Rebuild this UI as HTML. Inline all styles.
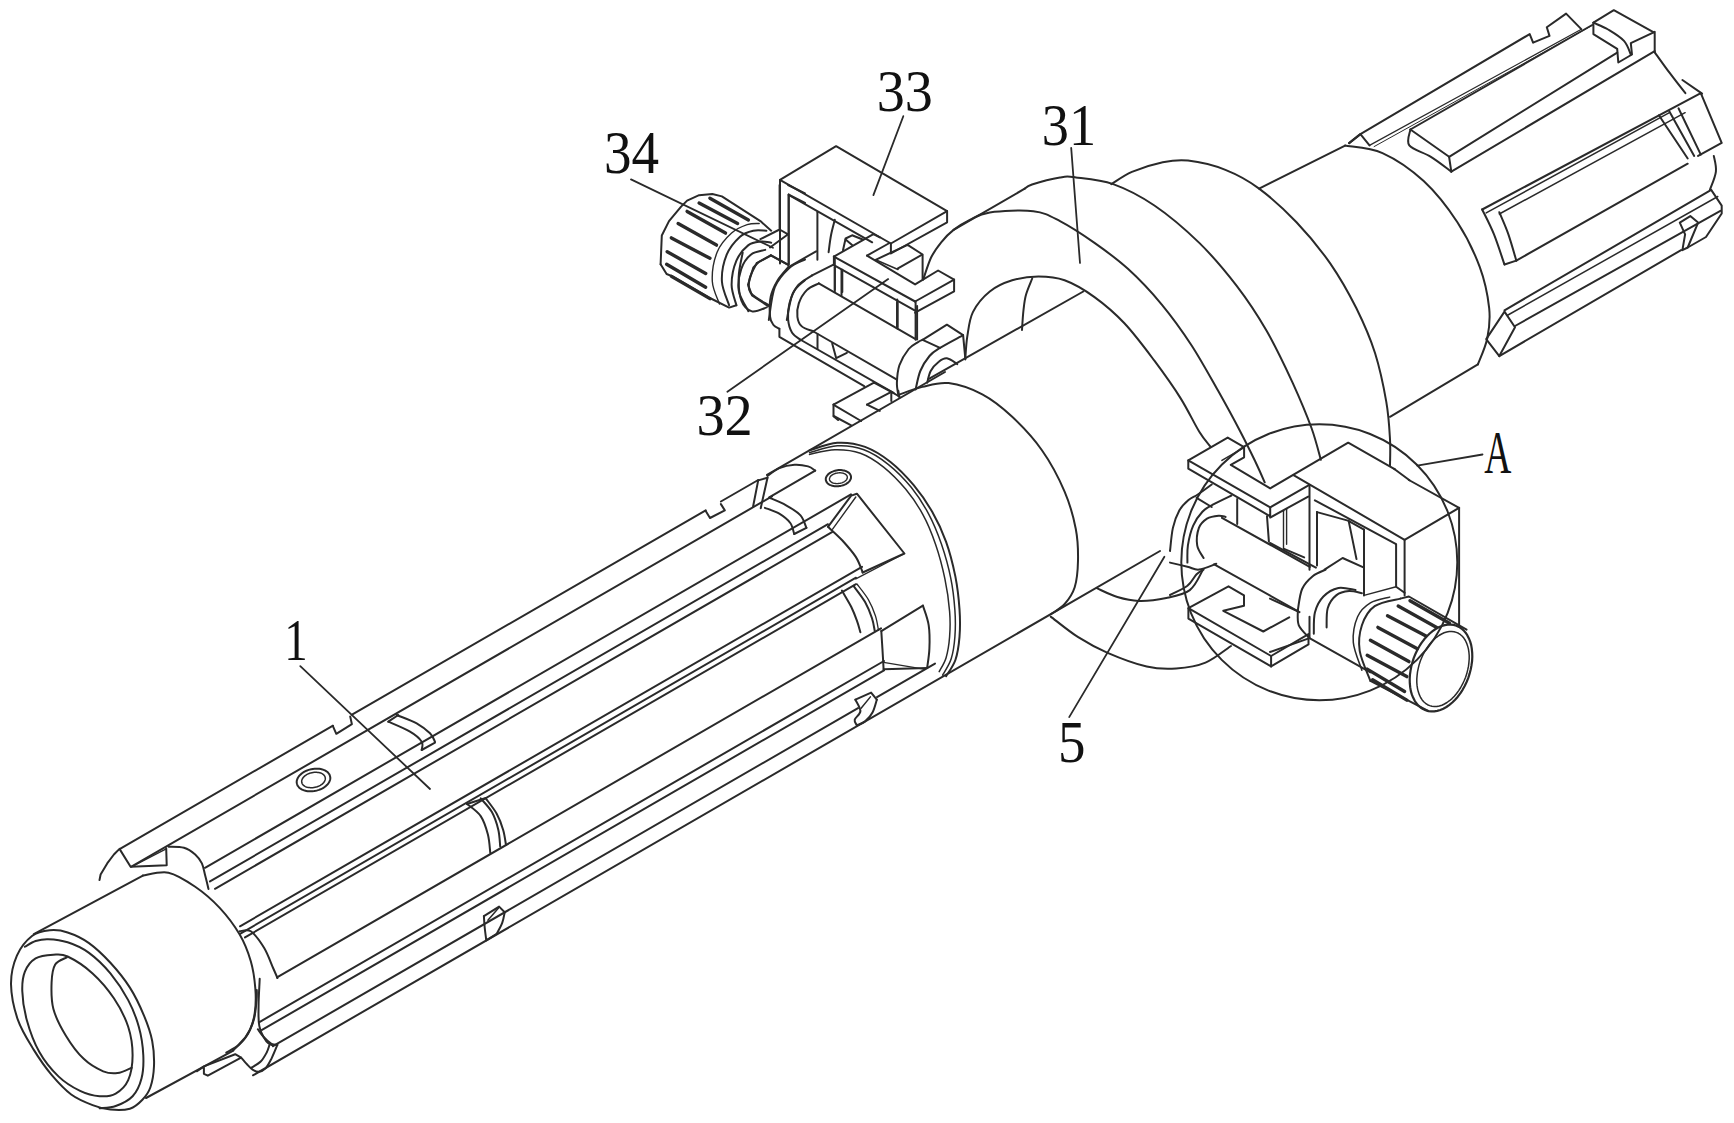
<!DOCTYPE html>
<html><head><meta charset="utf-8"><style>
html,body{margin:0;padding:0;background:#fff;width:1734px;height:1123px;overflow:hidden}
svg{display:block}
</style></head><body>
<svg width="1734" height="1123" viewBox="0 0 1734 1123">
<rect width="1734" height="1123" fill="#fff"/>
<g>
<g fill="none" stroke="#2a2a2a" stroke-linejoin="round" stroke-linecap="round">
<path d="M11,984.1 C10.9,973.4 13.4,963.6 16.9,955.6 C20.4,947.6 26.6,940.2 32,936 C37.5,931.8 43.9,930.9 49.8,930.3 C55.8,929.7 61.1,930.3 67.6,932.5 C74.2,934.6 81.9,938.1 89,943.1 C96.1,948.2 103.5,955.3 110.4,962.7 C117.2,970.1 124.3,978.7 129.9,987.6 C135.6,996.5 140.5,1007.2 144.2,1016.1 C147.9,1025 150.6,1032.7 152.2,1041 C153.8,1049.4 154.3,1058.3 154,1066 C153.7,1073.7 152.3,1081.7 150.4,1087.3 C148.5,1093 145.8,1096.2 142.4,1099.8 C139,1103.4 135.3,1107.1 129.9,1108.7 C124.6,1110.3 116.6,1110.2 110.4,1109.6 C104.1,1109 99.1,1107.7 92.6,1105.1 C86,1102.6 78,1099.5 71.2,1094.5 C64.4,1089.4 57.9,1082.3 51.6,1074.9 C45.4,1067.5 39.5,1059.1 33.8,1049.9 C28.2,1040.8 21.6,1030.7 17.8,1019.7 C14,1008.7 11.2,994.8 11,984.1Z" stroke-width="2.0"/>
<path d="M24.9,946.7 C26.7,945.8 31.7,942.3 35.6,941 C39.5,939.8 42.7,939 48.1,939.2 C53.4,939.4 60.8,940 67.6,942.3 C74.5,944.5 81.9,947.7 89,952.9 C96.1,958.1 103.8,965.5 110.4,973.4 C116.9,981.3 123.4,991.2 128.2,1000.1 C132.9,1009 136.3,1017.6 138.8,1026.8 C141.4,1036 142.9,1046.7 143.3,1055.3 C143.7,1063.9 143.3,1071.6 141.5,1078.4 C139.7,1085.3 136.9,1091.6 132.6,1096.2 C128.3,1100.8 121.2,1104 115.7,1106 C110.2,1108 102.4,1107.9 99.7,1108.3" stroke-width="2.0"/>
<path d="M53.4,954.7 C58.7,954.4 61.1,953.4 67.6,956.5 C74.2,959.6 84.9,966.4 92.6,973.4 C100.3,980.4 108,989.4 113.9,998.3 C119.9,1007.2 125.1,1017.3 128.2,1026.8 C131.3,1036.3 132.6,1046.4 132.6,1055.3 C132.6,1064.2 131,1073.8 128.2,1080.2 C125.3,1086.6 120.5,1090.9 115.7,1093.6 C111,1096.2 105.6,1096.7 99.7,1096.2 C93.8,1095.8 86.9,1094.2 80.1,1090.9 C73.3,1087.6 65.6,1083.2 58.7,1076.6 C51.9,1070.1 44.5,1061.2 39.2,1051.7 C33.8,1042.2 29.5,1029.8 26.7,1019.7 C23.9,1009.6 22.5,999.2 22.3,991.2 C22,983.2 22.7,977.1 24.9,971.6 C27.1,966.1 30.9,961.1 35.6,958.3 C40.3,955.5 48.1,955 53.4,954.7Z" stroke-width="2.0"/>
<path d="M66.8,957.4 C64.8,958.6 57.7,960.3 55.2,964.5 C52.7,968.7 51.9,974.9 51.6,982.3 C51.3,989.7 51,1000.1 53.4,1009 C55.8,1017.9 60.8,1027.4 65.9,1035.7 C70.9,1044 77.4,1052.9 83.7,1058.8 C89.9,1064.8 97.6,1068.9 103.2,1071.3 C108.9,1073.7 112.7,1073.7 117.5,1073.1 C122.2,1072.5 129.4,1068.6 131.7,1067.7" stroke-width="2.0"/>
<path d="M33.8,934.2 L142.9,875.6" stroke-width="2.0"/>
<path d="M142.9,875.6 C147.1,875.2 159.7,870.9 168.5,872.7 C177.2,874.6 186.6,880.9 195.2,886.8 C203.7,892.6 212.2,899.9 219.7,907.9 C227.1,915.9 234.5,925.7 239.7,934.6 C244.9,943.5 248.2,952.4 250.8,961.3 C253.4,970.2 254.6,979.5 255.3,988.1 C256,996.6 255.8,1005.5 254.8,1012.5 C253.9,1019.6 252.4,1025 249.7,1030.4 C247,1035.7 242.5,1041.1 238.6,1044.8 C234.7,1048.5 228.4,1051.3 226.3,1052.6" stroke-width="2.0"/>
<path d="M99.5,880.1 L100.6,874.5 L107.2,863.4 L113.9,854.5 L119.5,848.9 L130.6,866.7 L166.7,865.2 L166.2,848.3" stroke-width="2.0"/>
<path d="M132.8,866.1 L166.2,848.9" stroke-width="1.2"/>
<path d="M168.5,846.7 C171.1,846.9 179.6,846.5 184,847.8 C188.5,849.1 192.2,851.9 195.2,854.5 C198.1,857.1 200.2,859.9 201.9,863.4 C203.5,866.9 204.1,871.4 205.2,875.6 C206.3,879.9 208,886.8 208.5,889" stroke-width="2.0"/>
<path d="M239.7,931.3 C241.6,931.3 246.8,928.5 250.8,931.3 C254.9,934.1 260.5,941.9 264.2,948 C267.9,954.1 270.9,963 273.1,968 C275.3,973 276.8,976.4 277.5,978" stroke-width="2.0"/>
<path d="M259.7,978.7 C259.6,982.9 258.7,995.8 258.6,1003.6 C258.6,1011.5 258,1019.6 259.3,1025.9 C260.6,1032.2 264.1,1038.2 266.4,1041.5 C268.7,1044.8 272,1044.8 273.1,1045.5" stroke-width="2.0"/>
<path d="M146,1098 L233.3,1050.7" stroke-width="2.0"/>
<path d="M233.3,1050.3 C235.4,1048.1 242.6,1042.2 246,1037 C249.4,1031.9 252.1,1025.6 253.9,1019.4 C255.6,1013.2 256.1,1004.7 256.6,999.8 C257.1,994.9 256.8,991.6 256.8,990" stroke-width="2.0"/>
<path d="M197,1071.3 L203.9,1066.4 L235.2,1054.2 L241.1,1057.6 L207.8,1075.7 L203.9,1073.8 L203.9,1066.4" stroke-width="2.0"/>
<path d="M241.1,1057.6 C242.3,1058.9 246,1063.4 248,1065.4 C249.9,1067.5 251.1,1068.8 252.9,1069.8 C254.7,1070.9 256.6,1072.1 258.8,1071.8 C260.9,1071.6 263.5,1070.6 265.6,1068.4 C267.7,1066.2 269.5,1062.5 271.5,1058.6 C273.4,1054.7 276.4,1047.2 277.4,1044.9" stroke-width="2.0"/>
<path d="M251.9,1067.4 C253.4,1066.4 258.3,1064 260.7,1061.5 C263.2,1059.1 265.1,1055.5 266.6,1052.7 C268.1,1049.9 269,1046.2 269.5,1044.9" stroke-width="2.0"/>
<path d="M257.8,1029.2 C258.8,1030.5 261.4,1034.6 263.7,1037 C265.9,1039.5 269.2,1042.6 271.5,1043.9 C273.8,1045.2 276.4,1044.7 277.4,1044.9" stroke-width="2.0"/>
<path d="M120,848.8 L333,725.7" stroke-width="2.0"/>
<path d="M352,714.7 L705.7,510.3" stroke-width="2.0"/>
<path d="M720.9,501.5 L758.2,480" stroke-width="2.0"/>
<path d="M767,474.9 L945,372" stroke-width="2.0"/>
<path d="M332.8,725.9 L336.3,733.8 L351.9,724.2 L350.2,716.4" stroke-width="2.0"/>
<path d="M705.7,510.9 L710,518 L724.8,510.4 L720.9,504.1" stroke-width="2.0"/>
<path d="M753.1,506.5 L758.2,480.4" stroke-width="2.0"/>
<path d="M760.7,508.2 L767.5,477.7" stroke-width="2.0"/>
<path d="M758.2,480.4 L767.5,477.7" stroke-width="2.0"/>
<path d="M131,866.8 L772,496.3" stroke-width="2.0"/>
<path d="M205,867.8 L851,494.4" stroke-width="2.0"/>
<path d="M210,881.4 L828,524.2" stroke-width="2.0"/>
<path d="M215,888.8 L832,532.2" stroke-width="2.0"/>
<path d="M240,926.3 L862,566.8" stroke-width="2.0"/>
<path d="M240,933.8 L856,577.7" stroke-width="2.0"/>
<path d="M245,937.4 L856,584.2" stroke-width="2.0"/>
<path d="M277,977.4 L881,628.3" stroke-width="2.0"/>
<path d="M259,1022.3 L884,661" stroke-width="2.0"/>
<path d="M262,1029.9 L884,670.3" stroke-width="2.0"/>
<path d="M273,1046.2 L858,708.1" stroke-width="2.0"/>
<path d="M877,697.1 L935,663.6" stroke-width="2.0"/>
<path d="M253,1075.3 L1160,551" stroke-width="2.0"/>
<path d="M396.7,715 C400,716.4 411.1,720.3 416.7,723.3 C422.2,726.4 426.9,730.3 430,733.3 C433.1,736.4 434.2,740.3 435,741.7" stroke-width="2.0"/>
<path d="M388.3,721.7 C391.9,723.3 404.4,728.3 410,731.7 C415.6,735 419.7,738.6 421.7,741.7 C423.6,744.7 421.7,748.6 421.7,750" stroke-width="2.0"/>
<path d="M388.3,721.7 L398.3,715" stroke-width="2.0"/>
<path d="M421.7,750 L435,742.7" stroke-width="2.0"/>
<path d="M467,804 C469.3,806 477.2,811 480.7,816.1 C484.1,821.1 486.3,828.4 487.9,834.5 C489.5,840.6 489.9,849.9 490.3,852.9" stroke-width="2.0"/>
<path d="M480.7,798.4 C482.5,800.7 488.9,806.8 491.9,812.1 C494.8,817.3 496.9,823.9 498.3,829.7 C499.7,835.4 499.9,843.7 500.2,846.5" stroke-width="2.0"/>
<path d="M485.8,798.4 C487.6,801 493.8,808.4 496.7,813.7 C499.6,818.9 501.6,824.5 503.1,829.7 C504.7,834.9 505.5,842.4 506,844.9" stroke-width="2.0"/>
<path d="M467,804 L485.8,798" stroke-width="2.0"/>
<path d="M483.9,916.2 L499.1,906.6 L504.7,912.2" stroke-width="2.0"/>
<path d="M504.7,912.2 C504.3,914 503.6,919 502.3,922.6 C501,926.3 497.6,932 496.7,933.9" stroke-width="2.0"/>
<path d="M496.7,933.9 L486.3,940.3" stroke-width="2.0"/>
<path d="M486.3,940.3 C486,938.1 485.1,931.5 484.7,927.5 C484.3,923.4 484,918.1 483.9,916.2" stroke-width="2.0"/>
<path d="M487.9,920.2 L498.3,908.2" stroke-width="1.5"/>
<path d="M330.1,776.5 L330.3,777.5 L330.3,778.6 L330.1,779.7 L329.7,780.9 L329.2,782 L328.6,783 L327.8,784.1 L326.9,785.1 L325.8,786.1 L324.6,787 L323.4,787.8 L322,788.6 L320.5,789.3 L319,789.9 L317.4,790.4 L315.8,790.8 L314.1,791.1 L312.5,791.2 L310.9,791.3 L309.2,791.3 L307.7,791.2 L306.2,790.9 L304.7,790.6 L303.4,790.1 L302.1,789.6 L300.9,788.9 L299.9,788.2 L299,787.4 L298.3,786.5 L297.6,785.6 L297.2,784.6 L296.9,783.5 L296.7,782.5 L296.7,781.4 L296.9,780.3 L297.3,779.1 L297.8,778 L298.4,777 L299.2,775.9 L300.1,774.9 L301.2,773.9 L302.4,773 L303.6,772.2 L305,771.4 L306.5,770.7 L308,770.1 L309.6,769.6 L311.2,769.2 L312.9,768.9 L314.5,768.8 L316.1,768.7 L317.8,768.7 L319.3,768.8 L320.8,769.1 L322.3,769.4 L323.6,769.9 L324.9,770.4 L326.1,771.1 L327.1,771.8 L328,772.6 L328.7,773.5 L329.4,774.4 L329.8,775.4Z" stroke-width="2"/>
<path d="M325.2,777.5 L325.3,778.2 L325.3,779 L325.2,779.7 L324.9,780.5 L324.6,781.3 L324.1,782 L323.6,782.7 L322.9,783.4 L322.2,784.1 L321.3,784.7 L320.4,785.3 L319.4,785.8 L318.4,786.3 L317.3,786.7 L316.2,787.1 L315.1,787.3 L313.9,787.5 L312.7,787.7 L311.6,787.7 L310.4,787.7 L309.3,787.6 L308.3,787.5 L307.3,787.3 L306.3,787 L305.4,786.6 L304.6,786.2 L303.9,785.7 L303.3,785.1 L302.7,784.5 L302.3,783.9 L302,783.2 L301.8,782.5 L301.7,781.8 L301.7,781 L301.8,780.3 L302.1,779.5 L302.4,778.7 L302.9,778 L303.4,777.3 L304.1,776.6 L304.8,775.9 L305.7,775.3 L306.6,774.7 L307.6,774.2 L308.6,773.7 L309.7,773.3 L310.8,772.9 L311.9,772.7 L313.1,772.5 L314.3,772.3 L315.4,772.3 L316.6,772.3 L317.7,772.4 L318.7,772.5 L319.7,772.7 L320.7,773 L321.6,773.4 L322.4,773.8 L323.1,774.3 L323.7,774.9 L324.3,775.5 L324.7,776.1 L325,776.8Z" stroke-width="1.5"/>
<path d="M809.5,450.4 C814.1,449.1 828,443.4 837.3,442.8 C846.5,442.2 856.2,443.7 865.1,446.9 C873.9,450.2 882.4,455.6 890.5,462 C898.6,468.4 906.7,476.9 913.7,485.2 C920.6,493.5 926.8,502.3 932.2,511.8 C937.6,521.2 942.2,531.1 946.1,541.9 C950,552.7 953.1,565.4 955.4,576.6 C957.6,587.8 958.8,599 959.5,609.1 C960.2,619.1 960.2,628.4 959.5,636.8 C958.8,645.3 957.6,653.4 955.4,660 C953.1,666.6 947.6,673.5 946.1,676.2" stroke-width="2.0"/>
<path d="M809.5,452.7 C814.1,451.6 828.2,446.3 837.3,445.8 C846.3,445.3 855.4,446.6 863.9,449.7 C872.4,452.8 880.3,458 888.2,464.3 C896.1,470.6 904.6,479.2 911.4,487.5 C918.1,495.8 923.7,504.6 928.7,514.1 C933.8,523.6 937.8,533.6 941.5,544.2 C945.1,554.8 948.5,566.8 950.7,577.8 C953,588.8 954.2,600.4 954.9,610.2 C955.6,620.1 955.5,628.7 954.9,636.8 C954.3,644.9 953.2,652.5 951.2,658.8 C949.2,665.2 944.1,672.4 942.6,675.1" stroke-width="1.5"/>
<path d="M809.5,454.4 C813.7,453.6 826.5,449.9 834.9,449.7 C843.4,449.5 852.3,450.3 860.4,453.2 C868.5,456.1 876.1,461.1 883.6,467.1 C891.1,473.1 899,481.2 905.6,489.1 C912.1,497 917.9,505.3 922.9,514.6 C928,523.8 932,533.9 935.7,544.7 C939.4,555.4 942.6,567.8 944.9,578.9 C947.3,590.1 948.8,601.7 949.6,611.4 C950.4,621 950.2,629.1 949.6,636.8 C949,644.6 947.8,651.9 946.1,657.7 C944.4,663.5 940.3,669.3 939.2,671.6" stroke-width="1.5"/>
<path d="M767.5,476 C769.4,474.7 774.8,470 779.3,468.1 C783.8,466.2 789.7,465 794.5,464.7 C799.3,464.4 804.6,465.4 808.1,466.4 C811.5,467.4 814,469.9 815.2,470.6" stroke-width="2.0"/>
<path d="M815.2,470.6 L769.2,497.3" stroke-width="2.0"/>
<path d="M769.2,497.7 C772,498.9 780.9,502.3 786.1,505.3 C791.3,508.2 797.1,511.7 800.5,515.4 C803.8,519.2 805.4,525.7 806.4,527.8" stroke-width="2.0"/>
<path d="M764.9,507.8 C767.3,508.8 775.1,511.2 779.3,513.7 C783.5,516.3 787.8,519.7 790.3,523 C792.8,526.4 793.5,532.2 794.2,534" stroke-width="2.0"/>
<path d="M794.2,534 L806.4,527.8" stroke-width="2.0"/>
<path d="M851,476.4 L851,477.2 L851,478 L850.8,478.8 L850.4,479.6 L850,480.4 L849.5,481.1 L848.8,481.9 L848.1,482.6 L847.2,483.2 L846.3,483.8 L845.3,484.4 L844.2,484.8 L843.1,485.3 L841.9,485.6 L840.7,485.9 L839.5,486.1 L838.3,486.3 L837,486.3 L835.8,486.3 L834.6,486.2 L833.5,486 L832.3,485.8 L831.3,485.4 L830.3,485.1 L829.4,484.6 L828.6,484.1 L827.8,483.5 L827.2,482.9 L826.7,482.2 L826.3,481.5 L826,480.7 L825.8,480 L825.8,479.2 L825.8,478.4 L826,477.6 L826.4,476.8 L826.8,476 L827.3,475.3 L828,474.5 L828.7,473.8 L829.6,473.2 L830.5,472.6 L831.5,472 L832.6,471.6 L833.7,471.1 L834.9,470.8 L836.1,470.5 L837.3,470.3 L838.5,470.1 L839.8,470.1 L841,470.1 L842.2,470.2 L843.3,470.4 L844.5,470.6 L845.5,471 L846.5,471.3 L847.4,471.8 L848.2,472.3 L849,472.9 L849.6,473.5 L850.1,474.2 L850.5,474.9 L850.8,475.7Z" stroke-width="2"/>
<path d="M847.3,476.9 L847.3,477.5 L847.3,478 L847.1,478.5 L846.9,479.1 L846.6,479.6 L846.2,480.1 L845.8,480.6 L845.2,481 L844.6,481.5 L844,481.9 L843.3,482.2 L842.5,482.6 L841.7,482.9 L840.9,483.1 L840,483.3 L839.1,483.4 L838.3,483.5 L837.4,483.6 L836.5,483.6 L835.7,483.5 L834.8,483.4 L834.1,483.3 L833.3,483.1 L832.6,482.8 L832,482.5 L831.4,482.2 L830.9,481.8 L830.4,481.4 L830.1,480.9 L829.8,480.5 L829.6,480 L829.5,479.5 L829.5,478.9 L829.5,478.4 L829.7,477.9 L829.9,477.3 L830.2,476.8 L830.6,476.3 L831,475.8 L831.6,475.4 L832.2,474.9 L832.8,474.5 L833.5,474.2 L834.3,473.8 L835.1,473.5 L835.9,473.3 L836.8,473.1 L837.7,473 L838.5,472.9 L839.4,472.8 L840.3,472.8 L841.1,472.9 L842,473 L842.7,473.1 L843.5,473.3 L844.2,473.6 L844.8,473.9 L845.4,474.2 L845.9,474.6 L846.4,475 L846.7,475.5 L847,475.9 L847.2,476.4Z" stroke-width="1.4"/>
<path d="M828,526.8 L851.2,495.6 L856.9,493.7 L904.4,553.5 L862.7,572.5" stroke-width="2.0"/>
<path d="M832.6,529.2 L855.8,497" stroke-width="1.4"/>
<path d="M828,526.8 C830.3,529 837.3,535 841.9,540 C846.5,545.1 852.3,551.5 855.8,556.9 C859.3,562.4 861.6,569.9 862.7,572.5" stroke-width="2.0"/>
<path d="M904.4,553.5 L855.8,578.9" stroke-width="1.4"/>
<path d="M841.9,590.5 C843.4,593.2 848.6,601.7 851.2,606.7 C853.7,611.8 855.4,616.4 856.9,620.6 C858.5,624.9 859.8,630.3 860.4,632.2" stroke-width="2.0"/>
<path d="M853.5,585.9 C855.4,588.6 862,596.7 865.1,602.1 C868.1,607.5 870.4,613.5 872,618.3 C873.6,623.1 874.3,628.9 874.8,631.1" stroke-width="2.0"/>
<path d="M856.9,584 C858.9,586.7 865.4,594.5 868.5,599.8 C871.6,605.1 873.8,610.9 875.5,616 C877.1,621.1 878,628 878.5,630.4" stroke-width="1.3"/>
<path d="M881.3,631.1 L922.9,605.6" stroke-width="2.0"/>
<path d="M922.9,605.6 C923.9,608.9 927.7,618.1 928.7,625.3 C929.8,632.4 929.7,641.3 929.4,648.4 C929.2,655.6 927.5,664.8 927.1,668.1" stroke-width="2.0"/>
<path d="M881.3,631.1 C881.5,633.9 882,642.1 882.4,648.4 C882.8,654.8 883.4,665.8 883.6,669.3" stroke-width="2.0"/>
<path d="M883.6,669.3 L927.1,668.1" stroke-width="2.0"/>
<path d="M883.6,662.3 L925.3,669.3" stroke-width="1.3"/>
<path d="M855.4,699.7 L871.1,692.6 L876.8,699.7" stroke-width="2.0"/>
<path d="M876.8,699.7 C876.1,701.9 874.4,709 872.5,712.5 C870.6,716.1 868,718.9 865.4,721.1 C862.8,723.2 858.3,724.6 856.9,725.4" stroke-width="2.0"/>
<path d="M856.9,725.4 C856.5,724.4 854.1,722 854.7,719.7 C855.3,717.3 860.3,714.4 860.4,711.1 C860.5,707.8 856.3,701.6 855.4,699.7" stroke-width="2.0"/>
<path d="M861.1,708.3 L870.4,696.9" stroke-width="1.5"/>
<path d="M965.3,358.5 C965.6,354.8 966.1,344.1 967.3,336.4 C968.6,328.7 969.2,319.6 972.9,312.1 C976.7,304.6 983.2,296.8 989.8,291.5 C996.3,286.2 1004.1,282.8 1012.2,280.3 C1020.3,277.8 1029.7,276.5 1038.4,276.5 C1047.1,276.5 1055.2,276.8 1064.6,280.3 C1073.9,283.7 1084.5,289.9 1094.5,297.1 C1104.5,304.3 1114.5,312.7 1124.4,323.3 C1134.4,333.9 1145,348.2 1154.4,360.7 C1163.7,373.2 1173.1,386.3 1180.5,398.1 C1188,410 1194.3,423.7 1199.3,431.8 C1204.2,439.9 1208.6,444.2 1210.5,446.7" stroke-width="2.0"/>
<path d="M1022,330 C1022.2,326.7 1022.8,315.9 1023.5,310 C1024.2,304.1 1024.5,299.9 1026,294.7 C1027.5,289.4 1031.2,281.2 1032.2,278.5" stroke-width="2.0"/>
<path d="M923.1,279.7 C924.5,276 928.2,263.5 931.2,257.3 C934.2,251.1 937.5,246.9 941.2,242.3 C944.9,237.7 948.8,233.6 953.6,229.9 C958.4,226.2 963.8,222.8 969.8,219.9 C975.8,217 979.2,213.9 989.8,212.4 C1000.4,210.9 1021.7,209.8 1033.4,211.2 C1045.1,212.6 1049.8,215.8 1060,221.1 C1070.2,226.4 1083.2,234.9 1094.5,242.9 C1105.9,250.9 1117,258.8 1128.2,269.1 C1139.4,279.3 1151.2,291.8 1161.8,304.6 C1172.4,317.4 1182.4,331.4 1191.8,345.7 C1201.1,360.1 1209.9,376.3 1218,390.6 C1226.1,405 1234.2,419.9 1240.4,431.8 C1246.6,443.6 1251.3,453.3 1255.4,461.7 C1259.4,470.1 1263.2,478.8 1264.7,482.3" stroke-width="2.0"/>
<path d="M953.6,229.9 L1024.7,188.7" stroke-width="2.0"/>
<path d="M1024.7,188.7 C1025.9,188 1026.1,186.4 1032,184.5 C1037.9,182.6 1052.7,178.7 1060,177.5 C1067.3,176.3 1066.9,176.3 1075.8,177.4 C1084.7,178.5 1100.1,179.5 1113.2,184.1 C1126.3,188.8 1140,195.7 1154.4,205.5 C1168.7,215.2 1185.5,229.5 1199.3,242.9 C1213,256.3 1225.4,271.2 1236.7,285.9 C1247.9,300.5 1257.2,314.6 1266.6,330.8 C1275.9,347 1285.3,366.9 1292.8,383.1 C1300.2,399.4 1306.8,415.2 1311.5,428 C1316.1,440.8 1319.3,454.5 1320.8,459.8" stroke-width="2.0"/>
<path d="M1111.3,184.1 C1114.8,182.1 1123.5,175.4 1131.9,171.8 C1140.3,168.2 1152.5,164.3 1161.8,162.4 C1171.2,160.6 1177.4,159.3 1188,160.6 C1198.6,161.8 1213.6,165.2 1225.4,169.9 C1237.3,174.6 1247.3,179.9 1259.1,188.6 C1270.9,197.4 1284.7,209.8 1296.5,222.3 C1308.4,234.8 1320.2,249.1 1330.2,263.4 C1340.1,277.8 1348.9,293.4 1356.4,308.3 C1363.8,323.3 1370.1,337.6 1375.1,353.2 C1380,368.8 1383.8,387.5 1386.3,401.8 C1388.8,416.2 1389.4,428.7 1390,439.3 C1390.6,449.9 1390,461.1 1390,465.4" stroke-width="2.0"/>
<path d="M928.4,379.1 L1083.3,291.5" stroke-width="2.0"/>
<path d="M900,394.4 C903.7,393.1 914.3,388.8 922.4,386.9 C930.5,385 938.7,381.9 948.6,383.1 C958.6,384.4 971.7,388.8 982.3,394.4 C992.9,400 1002.2,407.5 1012.2,416.8 C1022.2,426.2 1033.4,438 1042.1,450.5 C1050.9,462.9 1059,478.5 1064.6,491.6 C1070.2,504.7 1073.6,517.5 1075.8,529 C1078,540.5 1078.2,550.9 1078,560.7 C1077.8,570.4 1076.9,580.1 1074.7,587.3 C1072.4,594.6 1068.6,599.6 1064.7,604 C1060.8,608.4 1053.6,612.3 1051.3,614" stroke-width="2.0"/>
<path d="M1259.1,188.6 L1345.1,145.6" stroke-width="2.0"/>
<path d="M1345.1,145.6 C1351.4,146.9 1369.5,147.2 1382.5,153.1 C1395.6,159 1411.2,169.6 1423.7,181.1 C1436.2,192.7 1448,208 1457.4,222.3 C1466.7,236.6 1474.5,252.8 1479.8,267.2 C1485.1,281.5 1487.9,296.5 1489.2,308.3 C1490.4,320.2 1489.2,328.9 1487.3,338.3 C1485.4,347.6 1479.5,360.1 1477.9,364.4" stroke-width="2.0"/>
<path d="M1477.9,364.4 L1390,416.8" stroke-width="2.0"/>
<path d="M1050.7,616.6 C1055.3,620 1068.7,631.1 1078.2,637.2 C1087.6,643.2 1096.1,647.9 1107.6,652.8 C1119,657.7 1135.3,663.9 1146.7,666.5 C1158.2,669.2 1166.3,669.2 1176.1,668.5 C1185.9,667.8 1196.4,666.4 1205.5,662.6 C1214.7,658.9 1226.7,648.7 1231,646" stroke-width="2.0"/>
<path d="M1096.8,588.2 C1100.2,589.6 1110.3,594.9 1117.4,597 C1124.4,599.1 1130.7,600.7 1138.9,600.9 C1147.1,601.1 1157.8,599.8 1166.3,598 C1174.8,596.2 1183.8,594.7 1189.8,590.1 C1195.9,585.6 1200.5,573.8 1202.6,570.5" stroke-width="2.0"/>
<path d="M1181.3,562.3 a138,138 0 1,0 276,0 a138,138 0 1,0 -276,0" stroke-width="2"/>
<path d="M1349.1,143.1 L1360.4,134.1 L1529.7,34.1 L1533.1,42.7 L1549.5,35.9 L1546.8,27.3 L1566.1,13.6 L1581.3,29.1" stroke-width="2.0"/>
<path d="M1369.5,145.4 L1580.9,29.5" stroke-width="1.2"/>
<path d="M1374.1,146.6 L1592.2,25.4" stroke-width="1.0"/>
<path d="M1349.1,143.1 L1360.4,134.1 L1369.5,145.4" stroke-width="2.0"/>
<path d="M1410.4,129.5 L1449.1,156.8 L1451.3,171.6" stroke-width="2.0"/>
<path d="M1410.4,129.5 C1410.2,132.2 1405.9,140.9 1409.3,145.4 C1412.7,150 1423.9,152.4 1430.9,156.8 C1437.9,161.1 1447.9,169.1 1451.3,171.6" stroke-width="2.0"/>
<path d="M1410.4,129.5 L1592.2,25" stroke-width="2.0"/>
<path d="M1449.1,156.8 L1617.2,52.7" stroke-width="2.0"/>
<path d="M1451.3,171.6 L1654.7,51.1" stroke-width="2.0"/>
<path d="M1593.4,22.7 L1613.8,10.2 L1654.7,32.9 L1654.7,52.3" stroke-width="2.0"/>
<path d="M1593.4,22.7 L1593.4,34.1 L1617.2,48.9 L1618.3,62.5 L1632,54.5 L1630.8,43.2 L1654.7,31.8" stroke-width="2.0"/>
<path d="M1593.4,22.7 C1595.8,23.9 1603,26.5 1608.1,29.5 C1613.2,32.6 1620.2,36.7 1624,40.9 C1627.8,45.1 1629.7,52.3 1630.8,54.5" stroke-width="2.0"/>
<path d="M1654.7,52.3 C1657.2,55.7 1664.4,65.9 1669.5,72.7 C1674.6,79.5 1682.7,89.8 1685.4,93.2" stroke-width="2.0"/>
<path d="M1482.2,209.5 L1700.8,93.1 L1721.7,142.8 L1698.1,155.9" stroke-width="2.0"/>
<path d="M1486.2,212.9 L1669.4,112.7" stroke-width="1.5"/>
<path d="M1499.3,214 L1685.1,112.7" stroke-width="1.5"/>
<path d="M1482.2,209.5 C1484.2,213.7 1490.3,225.2 1494,234.4 C1497.7,243.6 1502.7,259.5 1504.5,264.5" stroke-width="2.0"/>
<path d="M1499.3,212.2 C1500.8,215.9 1505.6,226.3 1508.4,234.4 C1511.2,242.5 1515,256.2 1516.3,260.6" stroke-width="2.0"/>
<path d="M1504.5,264.5 L1516.3,260.6" stroke-width="2.0"/>
<path d="M1516.3,260.6 L1687.7,163.7" stroke-width="2.0"/>
<path d="M1658.9,115.3 L1687.7,158.5" stroke-width="2.0"/>
<path d="M1669.4,111.4 L1694.2,155.9" stroke-width="2.0"/>
<path d="M1678.5,108.3 L1700.8,154.6" stroke-width="2.0"/>
<path d="M1682.4,80 L1702.1,93.6" stroke-width="2.0"/>
<path d="M1713.8,155.9 C1714.2,158.5 1716.6,165.9 1715.9,171.6 C1715.3,177.3 1710.9,186.9 1709.9,189.9" stroke-width="2.0"/>
<path d="M1504.5,310.3 L1711.2,189.9 L1721.7,205.6 L1721.7,213.5 L1706,237 L1687.7,247.5" stroke-width="2.0"/>
<path d="M1507.1,315.5 L1717.8,196.5" stroke-width="1.5"/>
<path d="M1515,326 L1720.4,210.9" stroke-width="2.0"/>
<path d="M1486.2,339.1 L1504.5,311.6 L1515,327.3 L1499.3,356.1 L1486.2,339.1" stroke-width="2.0"/>
<path d="M1499.3,356.1 L1681.1,250.1" stroke-width="2.0"/>
<path d="M1679.8,222.6 L1690.3,216.1 L1698.1,222.6 L1687.7,247.5 L1682.4,250.1 L1685.1,234.4 L1679.8,222.6" stroke-width="2.0"/>
<path d="M780,179.9 L836.1,146.2 L947.1,211.1 L947.1,222.3 L890.9,253.5 L890.9,243.5 L780,179.9" stroke-width="2.0"/>
<path d="M890.9,243.5 L947.1,211.1" stroke-width="2.0"/>
<path d="M780,179.9 L780,263.5" stroke-width="2.0"/>
<path d="M788.7,194.9 L788.7,264.7" stroke-width="2.0"/>
<path d="M788.7,194.9 L872.2,242.3" stroke-width="2.0"/>
<path d="M817.4,212.3 L817.4,259.7" stroke-width="2.0"/>
<path d="M834.8,219.8 C834.2,222.3 832.1,229.4 831.1,234.8 C830,240.2 829,249.3 828.6,252.2" stroke-width="2.0"/>
<path d="M833.9,256.6 L873.4,234.2 L879.8,237.4" stroke-width="2.0"/>
<path d="M867,255.6 L889.5,243" stroke-width="2.0"/>
<path d="M867,255.6 L915.1,284.4 L938.1,270.5 L954.1,279.6 L954.1,291.4 L915.1,312.7" stroke-width="2.0"/>
<path d="M954.1,279.6 L915.1,301.5" stroke-width="2.0"/>
<path d="M833.9,256.6 L915.1,301.5" stroke-width="2.0"/>
<path d="M833.9,256.6 L833.9,265.2 L915.1,310.6" stroke-width="2.0"/>
<path d="M875.6,259.8 L907.6,244.9 L922.6,254.5 L922.6,279.1" stroke-width="2.0"/>
<path d="M898,268.4 L922.1,254.7" stroke-width="2.0"/>
<path d="M875.6,259.8 L898,269.5" stroke-width="1.5"/>
<path d="M843,250.2 L845.6,238.5 L852.1,235.3 L862.7,239.5" stroke-width="2.0"/>
<path d="M845.6,239.5 L852.1,244.9" stroke-width="2.0"/>
<path d="M917.1,305.9 L917.1,339.5" stroke-width="2.0"/>
<path d="M834.8,267.2 L834.8,289.6" stroke-width="2.0"/>
<path d="M897.2,299.6 L897.2,327.1" stroke-width="2.0"/>
<path d="M842.3,269.7 L842.3,292.1" stroke-width="2.0"/>
<path d="M788.1,267.4 C786.3,269.6 780.3,275.8 777.4,280.7 C774.5,285.6 772,290.7 770.7,296.7 C769.5,302.7 769.6,312.1 770.1,316.8 C770.5,321.4 771.9,322.8 773.4,324.8 C775,326.8 778.4,328.1 779.4,328.8" stroke-width="2.0"/>
<path d="M788.1,267.4 L816.1,251.3" stroke-width="2.0"/>
<path d="M812.1,275.4 C809.7,277.2 801.2,281.4 797.4,286.1 C793.7,290.7 791,297.8 789.4,303.4 C787.9,309 787.7,314.5 788.1,319.4 C788.5,324.3 790.1,329.5 792.1,332.8 C794.1,336.1 798.8,338.4 800.1,339.5" stroke-width="2.0"/>
<path d="M818.8,283.4 C816.8,284.5 810.1,286.7 806.8,290.1 C803.5,293.4 800.3,299 798.8,303.4 C797.2,307.9 797,313 797.4,316.8 C797.9,320.5 798.8,323.7 801.5,326.1 C804.1,328.6 811.5,330.6 813.5,331.5" stroke-width="2.0"/>
<path d="M812.1,275.4 L833.5,264.7" stroke-width="2.0"/>
<path d="M818.8,283.4 L915.6,339.2" stroke-width="2.0"/>
<path d="M813.5,331.5 L896,379.1" stroke-width="2.0"/>
<path d="M779.4,328.8 L779.4,336.8 L864.2,386.2" stroke-width="2.0"/>
<path d="M800.1,339.5 L893.6,392.9" stroke-width="2.0"/>
<path d="M817.5,334.1 L817.5,348.8" stroke-width="2.0"/>
<path d="M832.2,343.5 L836.2,358.2 L846.9,352.8" stroke-width="2.0"/>
<path d="M770.7,255.3 L758.7,262 L753.4,267.4 L748,284.7 L752,295.4 L768.1,306.1" stroke-width="2.0"/>
<path d="M770.7,255.3 L788.1,264.7" stroke-width="2.0"/>
<path d="M742.7,252.7 C742,256.7 738.9,268.7 738.7,276.7 C738.5,284.7 739.1,295 741.4,300.7 C743.6,306.5 747.8,310.3 752,311.4 C756.3,312.5 764.3,308.1 766.7,307.4" stroke-width="2.0"/>
<path d="M834.8,256.7 L834.8,291.4" stroke-width="2.0"/>
<path d="M841.5,270 L841.5,295.4" stroke-width="2.0"/>
<path d="M897.6,302.1 L897.6,328.8" stroke-width="2.0"/>
<path d="M897.1,302.7 L897.1,327" stroke-width="2.0"/>
<path d="M915.6,301.6 L915.6,339.8" stroke-width="2.0"/>
<path d="M922.6,339.8 L946.9,324.7 L963.1,335.1 L965.4,359.4" stroke-width="2.0"/>
<path d="M922.6,339.8 L940,347.9" stroke-width="2.0"/>
<path d="M898.5,396 C898.2,393.8 896.7,387.7 896.9,382.6 C897.1,377.5 897.5,370.8 899.4,365.2 C901.4,359.6 905.6,352.9 908.7,349 C911.8,345.2 915.6,343.6 918,342.1 C920.3,340.5 921.8,340.2 922.6,339.8" stroke-width="2.0"/>
<path d="M833.7,404.8 L861.1,421" stroke-width="2.0"/>
<path d="M833.7,416 L851.2,425.4" stroke-width="2.0"/>
<path d="M915.6,389.5 C916.4,386.5 918,376.6 920.3,371 C922.6,365.4 926.3,359.8 929.5,356 C932.8,352.1 934.4,351.3 940,347.9 C945.5,344.4 959.2,337.3 963.1,335.1" stroke-width="2.0"/>
<path d="M927.2,382.6 C927.8,380.7 928.8,374.5 930.7,371 C932.6,367.5 936.1,363.9 938.8,361.8 C941.5,359.6 943.8,357.9 946.9,358.3 C950,358.7 955.6,363.1 957.3,364.1" stroke-width="2.0"/>
<path d="M833.5,404.6 L874,382.6 L891.3,391.9 L899.4,396.5" stroke-width="2.0"/>
<path d="M833.5,404.6 L833.5,416.2 L838.1,420" stroke-width="2.0"/>
<path d="M867,404.6 L891.3,391.9" stroke-width="2.0"/>
<path d="M867,404.6 L879.8,410.9" stroke-width="2.0"/>
<path d="M891.3,391.9 L891.3,401.1" stroke-width="2.0"/>
<path d="M898.3,390.7 L899.4,397.6" stroke-width="2.0"/>
<path d="M660.6,264.3 L661.8,235.5 L669,221.1 L681.1,206.6 L687.1,200.6 L699.1,195.2 L712.3,194 L721.9,196.4 L760.4,221.1 L771.2,230.7" stroke-width="2.0"/>
<path d="M660.6,264.3 L666.6,274 L672.6,276.4 L709.9,298 L729.1,307.6 L736.4,305.2" stroke-width="2.0"/>
<path d="M709.9,198.2 L748.4,219.9" stroke-width="3.4"/>
<path d="M699.1,203 L737.6,223.5" stroke-width="3.4"/>
<path d="M687.1,211.4 L725.5,233.1" stroke-width="3.4"/>
<path d="M678.1,223.5 L716.5,245.1" stroke-width="3.4"/>
<path d="M671.4,237.9 L709.9,258.3" stroke-width="3.4"/>
<path d="M667.2,251.7 L705.7,273.4" stroke-width="3.4"/>
<path d="M666.6,264.3 L705.7,287.2" stroke-width="3.4"/>
<path d="M671.4,276.4 L709.9,298.6" stroke-width="3.4"/>
<path d="M719.5,304 C718.3,300.2 712.7,289.8 712.3,281.2 C711.9,272.6 713.9,260.3 717.1,252.3 C720.3,244.3 726.5,237.7 731.6,233.1 C736.6,228.5 742.6,226.3 747.2,224.7 C751.8,223.1 757.2,223.7 759.2,223.5" stroke-width="1.4"/>
<path d="M729.1,305.2 C727.9,301.2 722.3,289.6 721.9,281.2 C721.5,272.8 723.7,262.1 726.7,254.7 C729.7,247.3 735.6,240.7 740,236.7 C744.4,232.7 748.8,231.7 753.2,230.7 C757.6,229.7 764.2,230.7 766.4,230.7" stroke-width="2.0"/>
<path d="M736.4,305.2 C735.6,301.8 731.6,292.2 731.6,284.8 C731.6,277.4 733.6,267.3 736.4,260.7 C739.2,254.1 744.4,248.3 748.4,245.1 C752.4,241.9 756.6,241.9 760.4,241.5 C764.2,241.1 769.4,242.5 771.2,242.7" stroke-width="2.0"/>
<path d="M748.4,311.2 C746.8,307.8 740,297.8 738.8,290.8 C737.6,283.8 739.2,275.2 741.2,269.1 C743.2,263.1 746.8,257.9 750.8,254.7 C754.8,251.5 762.8,250.7 765.2,249.9" stroke-width="2.0"/>
<path d="M756.8,263.1 L771.2,255.3 L788.1,264.9" stroke-width="2.0"/>
<path d="M756.8,263.1 C755.6,265.7 750.6,273.8 749.6,278.8 C748.6,283.8 747.6,288.8 750.8,293.2 C754,297.6 765.8,303.2 768.8,305.2" stroke-width="2.0"/>
<path d="M768.8,320 C769.8,314.5 771.4,295.9 774.8,287.2 C778.2,278.5 784.2,272.6 789.3,267.9 C794.3,263.3 802.4,260.9 805,259.5" stroke-width="2.0"/>
<path d="M786.8,320 C787.8,315.5 789.8,299.9 792.9,293.2 C795.9,286.5 803,282.2 805,280" stroke-width="2.0"/>
<path d="M760.4,239.1 L779.6,229.5 L788.1,234.3 L770,247.5" stroke-width="2.0"/>
<path d="M779.6,185 L779.6,228.3" stroke-width="2.0"/>
<path d="M788.7,194.6 L788.7,264.3" stroke-width="2.0"/>
<path d="M788.7,194.6 L805,203" stroke-width="2.0"/>
<path d="M788.1,185 L805,193.4" stroke-width="2.0"/>
<path d="M631,179.4 L772.9,247.8" stroke-width="1.8"/>
<path d="M1188.3,460.4 L1227.7,437.6 L1244.1,447.1 L1244.1,457.3 L1230.8,464.9 L1270.2,488.4 L1348.2,442.7 L1395,469.3" stroke-width="2.0"/>
<path d="M1221.9,460.4 L1243.5,447.8" stroke-width="1.5"/>
<path d="M1188.3,460.4 L1188.3,468.7 L1270.2,516.3 L1270.2,507.4 L1188.3,460.4" stroke-width="2.0"/>
<path d="M1270.2,507.4 L1308.9,485.2" stroke-width="2.0"/>
<path d="M1270.2,517.5 L1308.2,496.6" stroke-width="2.0"/>
<path d="M1237.2,499.1 L1237.2,523.9" stroke-width="2.0"/>
<path d="M1267,516.3 L1268.9,541.6" stroke-width="2.0"/>
<path d="M1309.8,566.9 L1222,517.8" stroke-width="2.0"/>
<path d="M1203.6,558 C1202.5,555.9 1198,550.3 1197.2,545.3 C1196.4,540.2 1197.3,532.3 1198.9,527.9 C1200.6,523.4 1203.8,520.7 1207,518.6 C1210.3,516.6 1215.5,516 1218.6,515.7 C1221.7,515.4 1224.4,516.7 1225.6,516.9" stroke-width="2.0"/>
<path d="M1214.2,564.3 L1299.5,612.1" stroke-width="2.0"/>
<path d="M1170,551 C1170.5,547.2 1171.4,534.6 1172.9,527.9 C1174.4,521.1 1176.7,515.2 1179.3,510.5 C1181.9,505.9 1185.4,502.8 1188.5,500.1 C1191.6,497.4 1193.9,497.1 1197.8,494.5 C1201.6,491.9 1209.4,486.2 1211.7,484.5" stroke-width="2.0"/>
<path d="M1170,562.6 C1172.9,563.3 1182.5,565.5 1187.4,566.7 C1192.2,567.8 1194.1,570 1198.9,569.6 C1203.8,569.1 1213.4,564.7 1216.3,563.8" stroke-width="2.0"/>
<path d="M1170,595 C1172.9,593.5 1182.9,589.2 1187.4,585.8 C1191.8,582.3 1193.9,576.9 1196.6,574.2 C1199.3,571.5 1202.4,570.3 1203.6,569.6" stroke-width="2.0"/>
<path d="M1196.6,497.8 L1211.7,507" stroke-width="2.0"/>
<path d="M1187.4,562.6 C1187.5,559.7 1187,551.4 1187.9,545.3 C1188.9,539.1 1190.7,531.2 1193.2,525.6 C1195.6,520 1199.1,515.2 1202.4,511.7 C1205.7,508.2 1208,507.4 1212.8,504.7 C1217.7,502 1228.3,497 1231.4,495.5" stroke-width="2.0"/>
<path d="M1188.4,608.2 L1228.5,586.3 L1244,595.3 L1244,605.7 L1223.3,610.8 L1263.3,631.5 L1289.2,617.3" stroke-width="2.0"/>
<path d="M1188.4,608.2 L1188.4,618.6 L1271.1,666.4 L1271.1,656 L1188.4,608.2" stroke-width="2.0"/>
<path d="M1271.1,656 L1308.5,634.1 L1308.5,644.4 L1271.1,666.4" stroke-width="2.0"/>
<path d="M1293.5,475.1 L1404.6,539.8 L1459.1,507.8" stroke-width="2.0"/>
<path d="M1408.9,480 L1459.1,507.8 L1459.1,625.3" stroke-width="2.0"/>
<path d="M1404.6,539.8 L1404.6,595.4" stroke-width="2.0"/>
<path d="M1309.5,485.3 L1309.5,569.7" stroke-width="2.0"/>
<path d="M1314.9,500.3 L1396.1,544.1 L1396.1,586.8 L1404.6,592.8" stroke-width="2.0"/>
<path d="M1317,512.1 L1317,565.5" stroke-width="2.0"/>
<path d="M1317,512.1 L1348,520.6 L1364,529.6" stroke-width="2.0"/>
<path d="M1348.6,520.6 L1356.5,559.1" stroke-width="2.0"/>
<path d="M1364,529.6 L1364,595.4" stroke-width="2.0"/>
<path d="M1284.1,548.8 L1304.2,557.4" stroke-width="2.0"/>
<path d="M1270,543 L1315.9,567.6" stroke-width="2.0"/>
<path d="M1324.5,569.7 L1342.6,558 L1364,567.6" stroke-width="2.0"/>
<path d="M1364,595.4 L1396.1,586.8" stroke-width="1.5"/>
<path d="M1297.8,610.3 C1298.5,606.8 1299.6,594.7 1302.1,589 C1304.5,583.3 1308.8,579.4 1312.7,576.2 C1316.7,572.9 1323.4,570.8 1325.6,569.7" stroke-width="2.0"/>
<path d="M1297.8,610.3 C1298,612.8 1296.9,620.7 1298.8,625.3 C1300.8,629.9 1307.7,636 1309.5,638.1" stroke-width="2.0"/>
<path d="M1313.8,633.8 C1314,630.3 1313.3,618.7 1314.9,612.5 C1316.5,606.2 1319.5,600.5 1323.4,596.5 C1327.3,592.4 1333,589 1338.4,587.9 C1343.7,586.8 1352.6,589.7 1355.5,590" stroke-width="2.0"/>
<path d="M1326.6,627.4 C1326.8,624.2 1326.1,613.5 1327.7,608.2 C1329.3,602.9 1332.7,598.2 1336.2,595.4 C1339.8,592.5 1344.8,591.5 1349.1,591.1 C1353.3,590.8 1359.7,592.9 1361.9,593.2" stroke-width="2.0"/>
<path d="M1309.5,638.1 L1370.4,672.3" stroke-width="2.0"/>
<path d="M1270,598.6 L1297.8,611.4" stroke-width="2.0"/>
<path d="M1270,652 L1309.5,638.1 L1309.5,616.8" stroke-width="2.0"/>
<path d="M1400.3,598.6 L1408.9,596.5 L1466.6,629.6" stroke-width="2.0"/>
<path d="M1370.4,680.9 L1428.1,710.8" stroke-width="2.0"/>
<path d="M1370.4,680.9 C1368.6,675.9 1361.2,660.2 1359.7,650.9 C1358.3,641.7 1359.4,632.8 1361.9,625.3 C1364.4,617.8 1368.3,610.5 1374.7,606.1 C1381.1,601.6 1396.1,599.8 1400.3,598.6" stroke-width="2.0"/>
<path d="M1361.9,670.2 C1360.5,665.5 1354,651.3 1353.3,642.4 C1352.6,633.5 1354.8,623.3 1357.6,616.8 C1360.5,610.2 1365.1,606.1 1370.4,602.9 C1375.8,599.6 1386.5,598.1 1389.7,597.1" stroke-width="1.5"/>
<path d="M1410,600.7 L1449.5,623.2" stroke-width="3.4"/>
<path d="M1398.2,606.1 L1436.7,627.4" stroke-width="3.4"/>
<path d="M1387.5,615.7 L1426,636" stroke-width="3.4"/>
<path d="M1377.9,627.4 L1417.4,648.8" stroke-width="3.4"/>
<path d="M1370.4,640.3 L1408.9,661.6" stroke-width="3.4"/>
<path d="M1367.2,655.2 L1406.8,676.6" stroke-width="3.4"/>
<path d="M1367.2,669.1 L1404.6,691.5" stroke-width="3.4"/>
<path d="M1372.6,679.8 L1406.8,700.1" stroke-width="3.4"/>
<path d="M1417.2,465.7 L1482.5,454.5" stroke-width="1.8"/>
<path d="M903.3,116.2 L873.4,195.1" stroke-width="1.8"/>
<path d="M1071.2,148 L1080,263" stroke-width="1.8"/>
<path d="M727.4,391.7 L888.2,279.1" stroke-width="1.8"/>
<path d="M300.3,666.2 L430,789" stroke-width="1.8"/>
<path d="M1069.2,717.1 L1164.4,556.8" stroke-width="1.8"/>
<path d="M1468.3,677.9 L1466.6,682 L1464.7,686 L1462.6,689.8 L1460.3,693.3 L1457.8,696.7 L1455.1,699.7 L1452.3,702.5 L1449.4,704.9 L1446.4,707 L1443.3,708.7 L1440.3,710 L1437.2,710.9 L1434.2,711.3 L1431.2,711.4 L1428.4,711.1 L1425.6,710.3 L1423,709.1 L1420.6,707.5 L1418.4,705.6 L1416.4,703.3 L1414.6,700.6 L1413.1,697.6 L1411.8,694.4 L1410.8,690.9 L1410.2,687.2 L1409.8,683.2 L1409.7,679.2 L1409.9,675 L1410.5,670.8 L1411.3,666.5 L1412.4,662.3 L1413.7,658.1 L1415.4,654 L1417.3,650 L1419.4,646.2 L1421.7,642.7 L1424.2,639.3 L1426.9,636.3 L1429.7,633.5 L1432.6,631.1 L1435.6,629 L1438.7,627.3 L1441.7,626 L1444.8,625.1 L1447.8,624.7 L1450.8,624.6 L1453.6,624.9 L1456.4,625.7 L1459,626.9 L1461.4,628.5 L1463.6,630.4 L1465.6,632.7 L1467.4,635.4 L1468.9,638.4 L1470.2,641.6 L1471.2,645.1 L1471.8,648.8 L1472.2,652.8 L1472.3,656.8 L1472.1,661 L1471.5,665.2 L1470.7,669.5 L1469.6,673.7Z" stroke-width="2.2"/>
<path d="M1465.6,677.2 L1464.1,680.8 L1462.5,684.2 L1460.7,687.5 L1458.7,690.6 L1456.6,693.5 L1454.3,696.2 L1452,698.6 L1449.5,700.7 L1447,702.5 L1444.4,704 L1441.9,705.2 L1439.3,706 L1436.8,706.5 L1434.3,706.5 L1431.9,706.3 L1429.7,705.6 L1427.5,704.7 L1425.5,703.3 L1423.7,701.7 L1422,699.7 L1420.6,697.5 L1419.4,694.9 L1418.4,692.1 L1417.6,689.1 L1417.1,685.9 L1416.8,682.5 L1416.8,679 L1417.1,675.4 L1417.5,671.8 L1418.3,668.1 L1419.2,664.4 L1420.4,660.8 L1421.9,657.2 L1423.5,653.8 L1425.3,650.5 L1427.3,647.4 L1429.4,644.5 L1431.7,641.8 L1434,639.4 L1436.5,637.3 L1439,635.5 L1441.6,634 L1444.1,632.8 L1446.7,632 L1449.2,631.5 L1451.7,631.5 L1454.1,631.7 L1456.3,632.4 L1458.5,633.3 L1460.5,634.7 L1462.3,636.3 L1464,638.3 L1465.4,640.5 L1466.6,643.1 L1467.6,645.9 L1468.4,648.9 L1468.9,652.1 L1469.2,655.5 L1469.2,659 L1468.9,662.6 L1468.5,666.2 L1467.7,669.9 L1466.8,673.6Z" stroke-width="1.5"/>
<path d="M1283.5,511.2 L1283.5,549.3" stroke-width="1.4"/>
<path d="M1286.6,509.3 L1286.6,544.2" stroke-width="1.4"/>
<path d="M1394,468.7 L1409.5,480.3" stroke-width="2.0"/>
</g>
<text transform="matrix(0.5615 0 0 0.6000 876.69 111.30)" font-family="Liberation Serif" font-size="100" fill="#111">33</text>
<text transform="matrix(0.5516 0 0 0.6030 603.94 173.00)" font-family="Liberation Serif" font-size="100" fill="#111">34</text>
<text transform="matrix(0.5427 0 0 0.5821 1041.79 144.52)" font-family="Liberation Serif" font-size="100" fill="#111">31</text>
<text transform="matrix(0.5640 0 0 0.5939 696.38 434.61)" font-family="Liberation Serif" font-size="100" fill="#111">32</text>
<text transform="matrix(0.4686 0 0 0.5818 284.28 659.80)" font-family="Liberation Serif" font-size="100" fill="#111">1</text>
<text transform="matrix(0.5500 0 0 0.5939 1058.10 762.11)" font-family="Liberation Serif" font-size="100" fill="#111">5</text>
<text transform="matrix(0.3757 0 0 0.6062 1484.32 473.11)" font-family="Liberation Serif" font-size="100" fill="#111">A</text>
</g>
</svg>
</body></html>
